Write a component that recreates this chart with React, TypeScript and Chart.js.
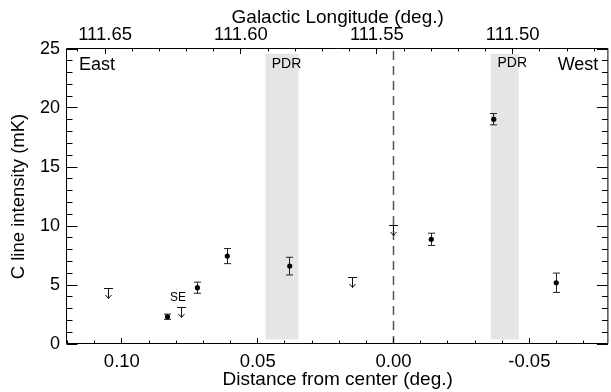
import React, { useEffect, useRef } from "react";
import { Chart, registerables } from "chart.js";

Chart.register(...registerables);

// ---- data ----
const detDistance = [0.0832, 0.0722, 0.0612, 0.0382, -0.0139, -0.0369, -0.0599];
const detIntensity = [2.31, 4.77, 7.45, 6.6, 8.87, 19.05, 5.19];
const detError = [0.22, 0.47, 0.64, 0.75, 0.52, 0.48, 0.82];

const limDistance = [0.105, 0.0781, 0.0151, 0.0];
const limIntensity = [4.72, 3.11, 5.65, 10.02];

const pdrStart = [0.0471, -0.0358];
const pdrEnd = [0.035, -0.0461];
const pdrLow = 0.4;
const pdrHigh = 24.6;

const distanceTicks = [0.1, 0.05, 0.0, -0.05];
const longitudeTicks = [111.65, 111.6, 111.55, 111.5];
const intensityTicks = [0, 5, 10, 15, 20, 25];

const FONT = "'Liberation Sans', Arial, Helvetica, sans-serif";

const notes = [
  { text: "East", x: 0.1158, y: 23.64, align: "left", size: 18 },
  { text: "West", x: -0.0754, y: 23.64, align: "right", size: 18 },
  { text: "PDR", x: 0.0394, y: 23.7, align: "center", size: 14 },
  { text: "PDR", x: -0.0437, y: 23.77, align: "center", size: 14 },
  { text: "SE", x: 0.0793, y: 3.94, align: "center", size: 12 },
];

const fmt2 = (v: number) => (Math.abs(v) < 1e-9 ? 0 : v).toFixed(2);

const decorPlugin = {
  id: "decor",
  beforeDatasetsDraw(chart: any) {
    const { ctx, chartArea: a, scales } = chart;
    const x = scales.x;
    const y = scales.y;
    ctx.save();
    ctx.fillStyle = "#e5e5e5";
    for (let i = 0; i < pdrStart.length; i++) {
      const p0 = x.getPixelForValue(pdrStart[i]);
      const p1 = x.getPixelForValue(pdrEnd[i]);
      const q0 = y.getPixelForValue(pdrHigh);
      const q1 = y.getPixelForValue(pdrLow);
      ctx.fillRect(Math.min(p0, p1), q0, Math.abs(p1 - p0), q1 - q0);
    }
    const zx = Math.floor(x.getPixelForValue(0)) + 0.5;
    ctx.strokeStyle = "#555";
    ctx.lineWidth = 1.5;
    ctx.setLineDash([9, 6]);
    ctx.beginPath();
    ctx.moveTo(zx, a.top + 2);
    ctx.lineTo(zx, a.bottom);
    ctx.stroke();
    ctx.setLineDash([]);
    chart.data.datasets.forEach((ds: any, di: number) => {
      if (!ds.errors) return;
      const meta = chart.getDatasetMeta(di);
      ds.data.forEach((pt: any, j: number) => {
        const el = meta.data[j];
        if (!el) return;
        const px = Math.floor(el.x) + 0.5;
        const top = y.getPixelForValue(pt.y + ds.errors[j]);
        const bot = y.getPixelForValue(pt.y - ds.errors[j]);
        ctx.strokeStyle = "#222";
        ctx.lineWidth = 1;
        ctx.beginPath();
        ctx.moveTo(px, top);
        ctx.lineTo(px, bot);
        ctx.moveTo(px - 3.5, top);
        ctx.lineTo(px + 3.5, top);
        ctx.moveTo(px - 3.5, bot);
        ctx.lineTo(px + 3.5, bot);
        ctx.stroke();
      });
    });
    ctx.restore();
  },
  afterDatasetsDraw(chart: any) {
    const { ctx } = chart;
    ctx.save();
    ctx.strokeStyle = "#111";
    ctx.lineWidth = 1;
    chart.data.datasets.forEach((ds: any, di: number) => {
      if (!ds.upperLimit) return;
      const meta = chart.getDatasetMeta(di);
      meta.data.forEach((el: any) => {
        const px = Math.floor(el.x) + 0.5;
        const py = Math.floor(el.y) + 0.5;
        ctx.beginPath();
        ctx.moveTo(px - 4.5, py);
        ctx.lineTo(px + 4.5, py);
        ctx.moveTo(px, py);
        ctx.lineTo(px, py + 10);
        ctx.moveTo(px - 3, py + 6.5);
        ctx.lineTo(px, py + 10);
        ctx.lineTo(px + 3, py + 6.5);
        ctx.stroke();
      });
    });
    ctx.restore();
  },
  afterDraw(chart: any) {
    const { ctx, chartArea: a, scales } = chart;
    const x = scales.x;
    const x2 = scales.x2;
    const y = scales.y;
    ctx.save();
    ctx.strokeStyle = "#000";
    ctx.lineWidth = 1;
    const L = a.left - 0.5;
    const R = a.right - 0.5;
    const T = a.top - 0.5;
    const B = a.bottom - 0.5;
    ctx.beginPath();
    ctx.rect(L, T, R - L, B - T);
    const xTicks = (s: any, edge: number, dir: number) => {
      const lo = Math.ceil(Math.min(s.min, s.max) * 100 - 1e-6);
      const hi = Math.floor(Math.max(s.min, s.max) * 100 + 1e-6);
      for (let k = lo; k <= hi; k++) {
        const px = Math.floor(s.getPixelForValue(k / 100)) + 0.5;
        const len = k % 5 === 0 ? 5.5 : 3;
        ctx.moveTo(px, edge);
        ctx.lineTo(px, edge + dir * len);
      }
    };
    xTicks(x, B, -1);
    xTicks(x2, T, 1);
    for (let k = Math.ceil(y.min); k <= Math.floor(y.max); k++) {
      const py = Math.floor(y.getPixelForValue(k)) + 0.5;
      const len = k % 5 === 0 ? 11 : 6;
      ctx.moveTo(L, py);
      ctx.lineTo(L + len, py);
      ctx.moveTo(R, py);
      ctx.lineTo(R - len, py);
    }
    ctx.stroke();
    ctx.fillStyle = "#000";
    ctx.textBaseline = "middle";
    for (const n of notes) {
      ctx.font = `${n.size}px ${FONT}`;
      ctx.textAlign = n.align as CanvasTextAlign;
      ctx.fillText(n.text, x.getPixelForValue(n.x), y.getPixelForValue(n.y));
    }
    ctx.restore();
  },
};

const fixBox = (w: number | null, h: number | null) => (s: any) => {
  if (w !== null) s.width = w;
  if (h !== null) s.height = h;
  s.paddingLeft = 0;
  s.paddingRight = 0;
  s.paddingTop = 0;
  s.paddingBottom = 0;
};

export default function App() {
  const ref = useRef<HTMLCanvasElement>(null);
  useEffect(() => {
    document.body.style.margin = "0";
    Chart.defaults.font.family = FONT;
    const chart = new Chart(ref.current!, {
      type: "scatter",
      data: {
        datasets: [
          {
            label: "detections",
            data: detDistance.map((d, i) => ({ x: d, y: detIntensity[i] })),
            errors: detError,
            pointRadius: 2.6,
            pointHoverRadius: 2.6,
            backgroundColor: "#000",
            borderColor: "#000",
            borderWidth: 0,
            xAxisID: "x",
            yAxisID: "y",
          } as any,
          {
            label: "upper limits",
            data: limDistance.map((d, i) => ({ x: d, y: limIntensity[i] })),
            upperLimit: true,
            pointRadius: 0,
            pointHoverRadius: 0,
            xAxisID: "x",
            yAxisID: "y",
          } as any,
        ],
      },
      options: {
        animation: false,
        responsive: false,
        events: [],
        layout: { padding: { left: 0, right: 1, top: 0, bottom: 0 } },
        plugins: { legend: { display: false }, tooltip: { enabled: false } },
        scales: {
          x: {
            type: "linear",
            position: "bottom",
            reverse: true,
            min: -0.0791,
            max: 0.1202,
            grid: { display: false, drawTicks: false },
            border: { display: false },
            afterBuildTicks: (s: any) => {
              s.ticks = distanceTicks.map((v) => ({ value: v }));
            },
            afterFit: fixBox(null, 48),
            ticks: {
              padding: 7,
              color: "#000",
              font: { size: 18.5 },
              maxRotation: 0,
              autoSkip: false,
              callback: (v: any) => fmt2(Number(v)),
            },
            title: {
              display: true,
              text: "Distance from center (deg.)",
              color: "#000",
              font: { size: 19 },
              padding: { top: 0, bottom: 1 },
            },
          },
          x2: {
            type: "linear",
            position: "top",
            reverse: true,
            min: 111.4648,
            max: 111.664,
            grid: { display: false, drawTicks: false },
            border: { display: false },
            afterBuildTicks: (s: any) => {
              s.ticks = longitudeTicks.map((v) => ({ value: v }));
            },
            afterFit: fixBox(null, 49),
            ticks: {
              padding: 3,
              color: "#000",
              font: { size: 18.5 },
              maxRotation: 0,
              autoSkip: false,
              callback: (v: any) => Number(v).toFixed(2),
            },
            title: {
              display: true,
              text: "Galactic Longitude (deg.)",
              color: "#000",
              font: { size: 19 },
              padding: { top: 6, bottom: 0 },
            },
          },
          y: {
            type: "linear",
            position: "left",
            min: 0,
            max: 25,
            grid: { display: false, drawTicks: false },
            border: { display: false },
            afterBuildTicks: (s: any) => {
              s.ticks = intensityTicks.map((v) => ({ value: v }));
            },
            afterFit: fixBox(67, null),
            ticks: {
              padding: 7,
              color: "#000",
              font: { size: 18 },
              callback: (v: any) => String(v),
            },
            title: {
              display: true,
              text: "C line intensity (mK)",
              color: "#000",
              font: { size: 18.5 },
              padding: { top: 8, bottom: 0 },
            },
          },
        },
      } as any,
      plugins: [decorPlugin],
    });
    return () => chart.destroy();
  }, []);
  return (
    <canvas
      ref={ref}
      width={611}
      height={392}
      style={{ display: "block", width: 611, height: 392 }}
    />
  );
}
